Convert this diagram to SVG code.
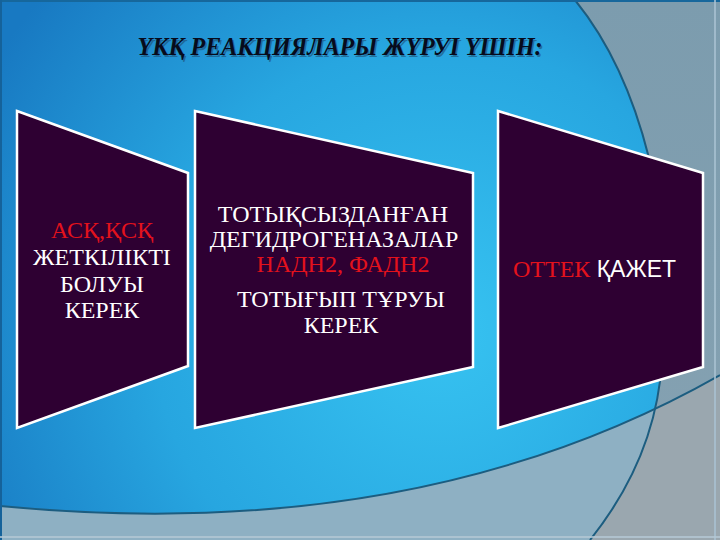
<svg xmlns="http://www.w3.org/2000/svg" width="720" height="540" viewBox="0 0 720 540">
<defs>
<radialGradient id="blue" cx="440" cy="330" r="520" gradientUnits="userSpaceOnUse">
<stop offset="0" stop-color="#37c3f1"/>
<stop offset="0.55" stop-color="#27a6e0"/>
<stop offset="1" stop-color="#1879c2"/>
</radialGradient>
<linearGradient id="grayR" x1="0" y1="0" x2="0" y2="1">
<stop offset="0" stop-color="#7c9cae"/>
<stop offset="1" stop-color="#86a2b2"/>
</linearGradient>
<clipPath id="rightClip"><path d="M575,0 C640,80 678,220 662,360 C658,430 630,490 590,540 L720,540 L720,0 Z"/></clipPath>
<style>
.panel{fill:#2e0032;stroke:#ffffff;stroke-width:2.5;stroke-linejoin:miter}
.curve{fill:none;stroke:#1c5d80;stroke-width:2}
.t{font-family:"Liberation Serif","DejaVu Serif",serif;font-size:24px;fill:#ffffff;text-anchor:middle}
.red{fill:#e3121c}
.title{font-family:"Liberation Serif","DejaVu Serif",serif;font-size:25px;font-weight:bold;font-style:italic;text-anchor:middle}
</style>
</defs>
<g id="background">
<rect x="0" y="0" width="720" height="540" fill="url(#blue)"/>
<path d="M0,506 C250,530 500,500 720,375 L720,540 L0,540 Z" fill="#8eb0c3"/>
<path d="M575,0 C640,80 678,220 662,360 C658,430 630,490 590,540 L720,540 L720,0 Z" fill="url(#grayR)"/>
<path d="M0,506 C250,530 500,500 720,375 L720,540 L0,540 Z" fill="#9aa7af" clip-path="url(#rightClip)"/>
<path class="curve" d="M0,506 C250,530 500,500 720,375"/>
<path class="curve" d="M575,0 C640,80 678,220 662,360 C658,430 630,490 590,540"/>
<rect x="0" y="0" width="720" height="2" fill="#16679c"/>
<rect x="0" y="0" width="2" height="540" fill="#15629a"/>
<rect x="714" y="0" width="2" height="540" fill="#a9c2d2" opacity="0.8"/>
<rect x="0" y="536" width="720" height="2" fill="#b4c8d4" opacity="0.8"/>
</g>
<g id="title">
<text class="title" x="341.5" y="56.5" fill="#1f4f73" opacity="0.6" textLength="405" lengthAdjust="spacingAndGlyphs">ҮКҚ РЕАКЦИЯЛАРЫ ЖҮРУІ ҮШІН:</text>
<text class="title" x="340" y="55" fill="#070b1c" textLength="405" lengthAdjust="spacingAndGlyphs">ҮКҚ РЕАКЦИЯЛАРЫ ЖҮРУІ ҮШІН:</text>
</g>
<g id="panel1">
<polygon class="panel" points="17,111 188,173 188,366 17,428"/>
<text class="t red" x="102" y="238">АСҚ,ҚСҚ</text>
<text class="t" x="102" y="265">ЖЕТКІЛІКТІ</text>
<text class="t" x="102" y="292">БОЛУЫ</text>
<text class="t" x="102" y="318">КЕРЕК</text>
</g>
<g id="panel2">
<polygon class="panel" points="195,111 473,173 473,367 195,428"/>
<text class="t" x="333" y="222">ТОТЫҚСЫЗДАНҒАН</text>
<text class="t" x="334" y="247">ДЕГИДРОГЕНАЗАЛАР</text>
<text class="t red" x="343" y="272">НАДН2, ФАДН2</text>
<text class="t" x="341" y="307">ТОТЫҒЫП ТҰРУЫ</text>
<text class="t" x="341" y="333">КЕРЕК</text>
</g>
<g id="panel3">
<polygon class="panel" points="498,111 703,173 703,367 498,428"/>
<text x="513" y="277" style="font-family:'Liberation Serif','DejaVu Serif',serif;font-size:24px"><tspan fill="#e3121c">ОТТЕК</tspan><tspan fill="#ffffff" style="font-family:'Liberation Sans','DejaVu Sans',sans-serif;font-size:23px"> ҚАЖЕТ</tspan></text>
</g>
<g id="connectors"/>
</svg>
